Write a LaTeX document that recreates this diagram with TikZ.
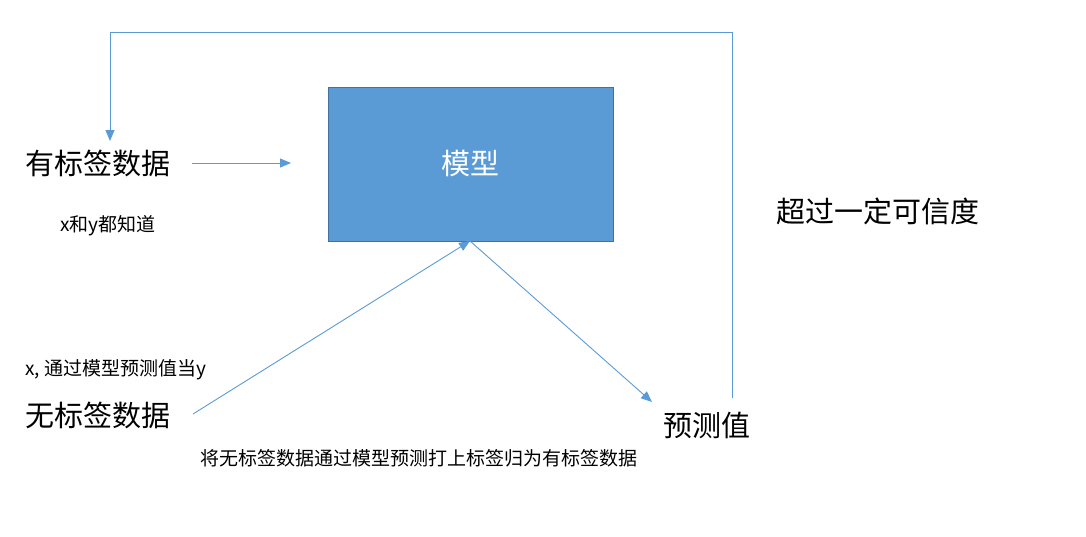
\documentclass[tikz,border=0pt]{standalone}
\usepackage{fontspec}
\setmainfont{Noto Sans CJK SC}
\usetikzlibrary{arrows.meta}
\definecolor{boxfill}{HTML}{5B9BD5}
\definecolor{boxline}{HTML}{41719C}
\definecolor{linkc}{HTML}{5B9BD5}
\tikzset{
  big/.style={font=\fontsize{29}{31}\selectfont, inner sep=0pt},
  small/.style={font=\fontsize{19}{21}\selectfont, inner sep=0pt},
  link/.style={draw=linkc, line width=0.9pt, -{Triangle[length=11pt,width=9pt]}},
}
\begin{document}
\begin{tikzpicture}[x=1pt,y=-1pt]
\useasboundingbox (0,0) rectangle (1086,536);
\node[draw=boxline, fill=boxfill, line width=1pt, minimum width=285pt, minimum height=154pt, inner sep=0pt] (model) at (470.5,164) {};
\node[big, text=white] (modeltxt) at (470,163) {模型};
\node[big, anchor=west] (labeled) at (25,163) {有标签数据};
\node[small, anchor=west] (xy) at (60,226) {x和y都知道};
\node[small, anchor=west] (xpred) at (25,370) {x, 通过模型预测值当y};
\node[big, anchor=west] (unlabeled) at (25,415) {无标签数据};
\node[big, anchor=west] (pred) at (663,425) {预测值};
\node[big, anchor=west] (conf) at (776,211) {超过一定可信度};
\node[small, anchor=west] (note) at (200,458) {将无标签数据通过模型预测打上标签归为有标签数据};
\coordinate (a1s) at (192,163);
\coordinate (a1e) at (291,163);
\coordinate (mb) at (470,241);
\coordinate (us) at (193,414);
\coordinate (pe) at (652,402);
\coordinate (ls) at (732,398);
\coordinate (lt) at (732,32);
\coordinate (ll) at (110,32);
\coordinate (le) at (110,141);
\draw[link] (a1s) -- (a1e);
\draw[link] (us) -- (mb);
\draw[link] (mb) -- (pe);
\draw[link] (ls) -- (lt) -- (ll) -- (le);
\end{tikzpicture}
\end{document}
